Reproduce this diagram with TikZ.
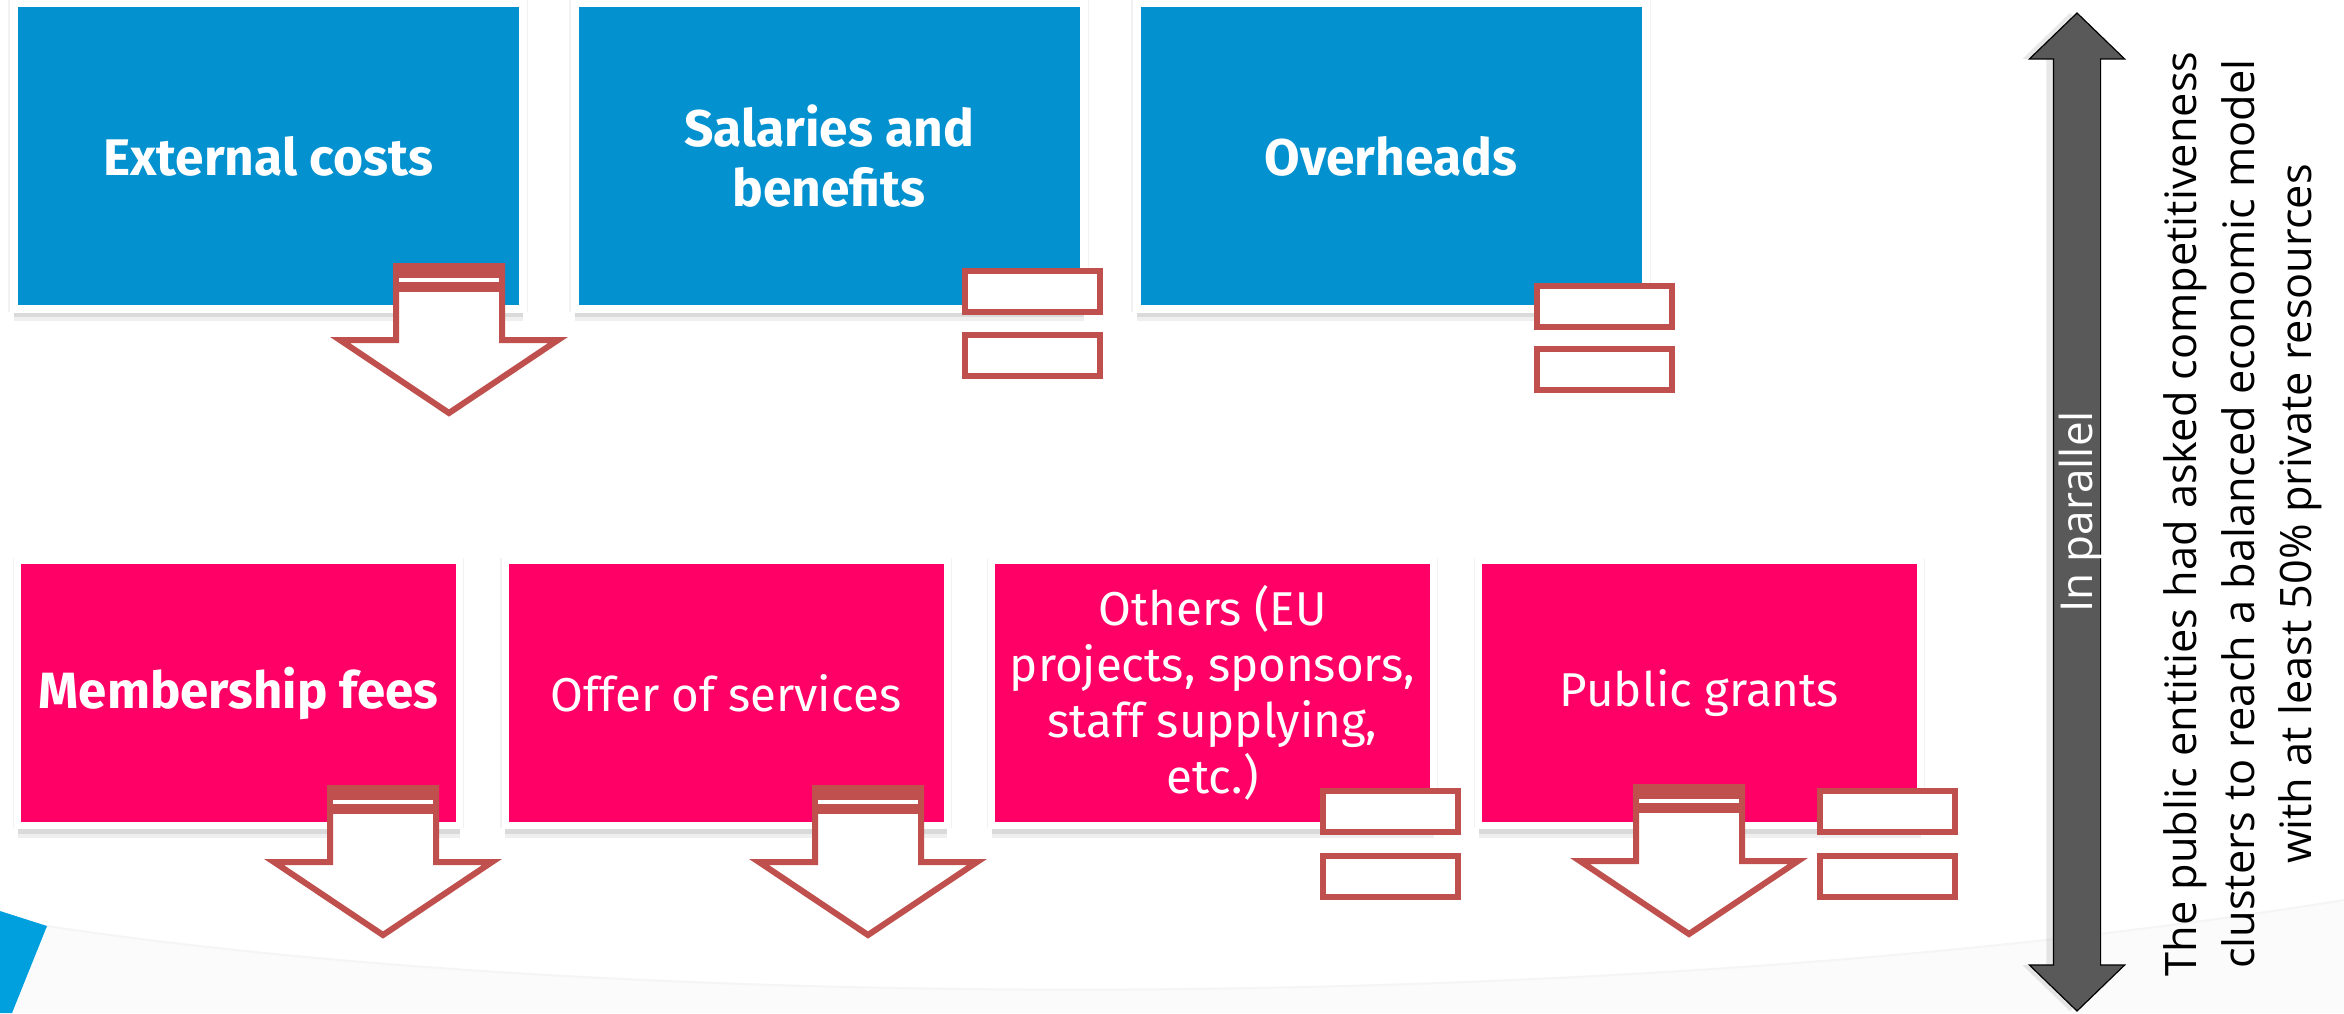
\documentclass[tikz,border=0pt]{standalone}
\usepackage{fontspec}
\setmainfont{Fira Sans}
\newfontfamily\rtfont{Open Sans}
\usetikzlibrary{shapes.arrows,shadows}
\definecolor{boxblue}{HTML}{0391CF}
\definecolor{boxpink}{HTML}{FF0066}
\definecolor{arrred}{HTML}{C0504D}
\definecolor{arrgray}{HTML}{595959}
\definecolor{cornerblue}{HTML}{00A0DE}
\tikzset{
  boxshadow/.style={drop shadow={shadow xshift=0pt,shadow yshift=-12pt,opacity=0.12},
                    drop shadow={shadow xshift=0pt,shadow yshift=-8pt,opacity=0.18},
                    drop shadow={shadow xshift=0pt,shadow yshift=0pt,shadow scale=1.022,opacity=0.10}},
  costbox/.style={boxshadow, fill=boxblue, draw=white, line width=8pt,
    minimum width=509pt, minimum height=306pt, inner sep=0pt, text=white,
    align=center, font=\fontsize{51.5}{60}\selectfont\bfseries},
  fundbox/.style={boxshadow, fill=boxpink, draw=white, line width=7pt,
    minimum width=442pt, minimum height=265pt, inner sep=0pt, text=white,
    align=center, font=\fontsize{47.5}{56}\selectfont},
  fundbold/.style={font=\fontsize{51}{56}\selectfont\bfseries},
  smallbox/.style={draw=arrred, fill=white, line width=6pt,
    minimum width=135pt, minimum height=41pt, inner sep=0pt},
  hollowarrow/.pic={
    \path[fill=white, draw=arrred, line width=6pt, miter limit=10]
      (-53,3) -- (-53,77) -- (-109,77) -- (0,150) -- (109,77) -- (53,77) -- (53,3) -- cycle;
    \fill[arrred] (-56,0) rectangle (56,29);
    \fill[white] (-50,15) rectangle (50,19);
  }
}
\begin{document}
\begin{tikzpicture}[x=1pt,y=-1pt]
\useasboundingbox (0,0) rectangle (2344,1013);
\fill[white] (0,0) rectangle (2344,1013);
% bottom decoration
\fill[gray!3] (47,926) .. controls (600,1010) and (1600,1020) .. (2344,900) -- (2344,1013) -- (12,1013) -- cycle;
\draw[gray!8, line width=2pt] (47,926) .. controls (600,1010) and (1600,1020) .. (2344,900);
\fill[cornerblue] (0,911) -- (47,926) -- (12,1013) -- (0,1013) -- cycle;

% cost boxes
\node[costbox] (c1) at (268,156) {External costs};
\node[costbox] (c2) at (829,156) {Salaries and\\benefits};
\node[costbox] (c3) at (1391,156) {Overheads};

% funding boxes
\node[fundbox, fundbold] (f1) at (238.5,693) {Membership fees};
\node[fundbox] (f2) at (726,693) {Offer of services};
\node[fundbox] (f3) at (1212.5,693) {Others (EU\\projects, sponsors,\\staff supplying,\\etc.)};
\node[fundbox] (f4) at (1699.5,693) {Public grants};

% hollow arrows
\pic at (449,263) {hollowarrow};
\pic at (383,785) {hollowarrow};
\pic at (868,785) {hollowarrow};
\pic at (1689,784) {hollowarrow};

% small boxes
\node[smallbox] (s2a) at (1032.5,291.5) {};
\node[smallbox] (s2b) at (1032.5,355.5) {};
\node[smallbox] (s3a) at (1604,306) {};
\node[smallbox] (s3b) at (1604,369.5) {};
\node[smallbox] (s6a) at (1390,811.5) {};
\node[smallbox] (s6b) at (1390,876) {};
\node[smallbox] (s7a) at (1887.5,811.5) {};
\node[smallbox] (s7b) at (1887.5,876) {};

% double arrow
\node[double arrow, rotate=90, fill=arrgray, draw=black, line width=1.2pt,
  minimum height=998pt, double arrow head extend=24pt, double arrow tip angle=92,
  text=white, font=\rtfont\fontsize{44}{44}\selectfont,
  text height=35pt, text depth=5pt, inner xsep=0pt, inner ysep=3pt,
  drop shadow={shadow xshift=-7pt,shadow yshift=0pt,opacity=0.18}] (par) at (2077,512) {In parallel};

% note
\node[rotate=90, align=center, inner sep=0pt,
  font=\rtfont\fontsize{43.3}{57.5}\selectfont] (note) at (2243,514)
  {The public entities had asked competitiveness\\clusters to reach a balanced economic model\\with at least 50\% private resources};
\end{tikzpicture}
\end{document}
